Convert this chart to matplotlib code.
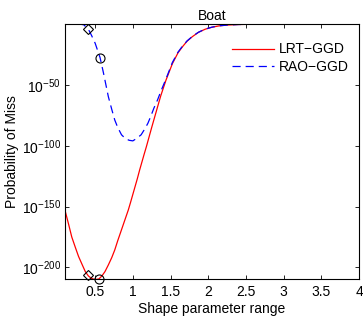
import matplotlib
matplotlib.use("Agg")
import matplotlib.pyplot as plt
from matplotlib.ticker import FixedLocator, FuncFormatter, NullLocator
import numpy as np

plt.rcParams["font.family"] = ["Liberation Sans", "DejaVu Sans"]
plt.rcParams["mathtext.fontset"] = "custom"
plt.rcParams["mathtext.rm"] = "Liberation Sans"
plt.rcParams["mathtext.it"] = "Liberation Sans"

# shape parameter vs log10(probability of miss)
lrt_x = [0.10, 0.15, 0.19, 0.24, 0.28, 0.33, 0.37, 0.41, 0.45, 0.50, 0.55, 0.59, 0.63,
         0.675, 0.72, 0.76, 0.80, 0.85, 0.90, 0.94, 0.97, 1.00, 1.03, 1.06, 1.09, 1.12,
         1.15, 1.18, 1.25, 1.31, 1.37, 1.44, 1.525, 1.60, 1.66, 1.72, 1.79, 1.87, 1.96,
         2.05, 2.14, 2.25, 2.40, 2.60, 2.80, 3.20, 4.00]
lrt_exp = [-153, -165, -175, -184, -191, -198, -203.5, -207, -209, -210, -209.5, -207,
           -203.5, -198, -192, -185.7, -178, -169, -160, -152.8, -146.5, -140, -133.5,
           -127, -120, -113.5, -107, -100.7, -85, -72, -59, -46, -32.5, -23.5, -18.5,
           -14, -10.3, -6.8, -4.2, -2.6, -1.5, -0.8, -0.35, -0.1, -0.03, 0, 0]

rao_x = [0.10, 0.20, 0.30, 0.35, 0.41, 0.45, 0.50, 0.565, 0.61, 0.675, 0.72, 0.76,
         0.80, 0.85, 0.90, 0.95, 1.00, 1.05, 1.11, 1.16, 1.20, 1.24, 1.28, 1.33,
         1.37, 1.44, 1.525, 1.60, 1.66, 1.72, 1.79, 1.87, 1.96, 2.05, 2.14, 2.25,
         2.40, 2.60, 2.80, 3.20, 4.00]
rao_exp = [0, 0, 0, -0.6, -4.2, -9, -15.7, -27.5, -40, -59.6, -70, -78.8, -85, -91,
           -94, -95.5, -96, -94, -91, -86, -81.5, -75.5, -69, -62, -55.5, -45,
           -31.5, -23, -18, -13.8, -10.1, -6.7, -4.1, -2.5, -1.45, -0.8, -0.35,
           -0.1, -0.03, 0, 0]

# estimated shape parameters marked on the curves
diamond_x = [0.41, 0.40]
diamond_exp = [-4.2, -206.5]
circle_x = [0.565, 0.555]
circle_exp = [-27.5, -209.8]

y_ticks_exp = [-200, -150, -100, -50]
x_ticks = [0.5, 1, 1.5, 2, 2.5, 3, 3.5, 4]

fig = plt.figure(figsize=(3.63, 3.17), dpi=100)
ax = fig.add_axes([0.179, 0.120, 0.810, 0.804])

ax.plot(lrt_x, np.power(10.0, lrt_exp), color="red", linewidth=0.9, label="LRT\u2212GGD")
ax.plot(rao_x, np.power(10.0, rao_exp), color="blue", linewidth=0.9,
        linestyle=(0, (6.5, 4)), label="RAO\u2212GGD")
ax.plot(diamond_x, np.power(10.0, diamond_exp), linestyle="none", marker="D",
        markersize=5.5, markerfacecolor="none", markeredgecolor="black",
        markeredgewidth=0.8, clip_on=False)
ax.plot(circle_x, np.power(10.0, circle_exp), linestyle="none", marker="o",
        markersize=6.5, markerfacecolor="none", markeredgecolor="black",
        markeredgewidth=0.8, clip_on=False)

ax.set_yscale("log")
ax.set_xlim(0.1, 4)
ax.set_ylim(10.0 ** -209.5, 1)
ax.yaxis.set_major_locator(FixedLocator([10.0 ** e for e in y_ticks_exp]))
ax.yaxis.set_minor_locator(NullLocator())
ax.yaxis.set_major_formatter(FuncFormatter(lambda v, p: r"$10^{%d}$" % round(np.log10(v))))
ax.set_xticks(x_ticks)
ax.set_xticklabels([f"{t:g}" for t in x_ticks])

ax.tick_params(direction="in", top=True, right=True, length=3, width=0.6,
               labelsize=10, pad=3)
ax.tick_params(axis="x", pad=4.5)
for s in ax.spines.values():
    s.set_linewidth(0.8)

ax.set_title("Boat", fontsize=10, pad=3)
ax.set_xlabel("Shape parameter range", fontsize=10, labelpad=2)
ax.set_ylabel("Probability of Miss", fontsize=10, labelpad=2)

ax.legend(loc="upper right", bbox_to_anchor=(0.985, 0.95), frameon=False, fontsize=10,
          handlelength=3.0, handletextpad=0.4, labelspacing=0.25, borderaxespad=0)

fig.savefig("out.png", dpi=100)
